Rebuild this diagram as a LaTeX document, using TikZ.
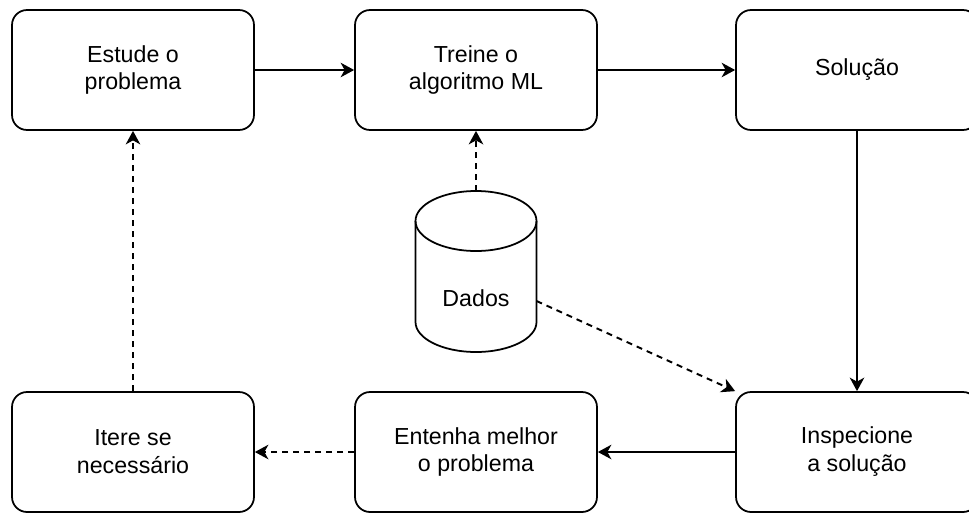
\documentclass[tikz,border=0pt]{standalone}
\usepackage{fontspec}
\setmainfont{Liberation Sans}
\usetikzlibrary{arrows.meta}
\begin{document}
\begin{tikzpicture}[x=0.02cm,y=-0.02cm,
  caixa/.style={draw,rounded corners=0.3cm,line width=1pt,minimum width=4.84cm,minimum height=2.4cm,align=center,font=\fontsize{13.2}{15.9}\selectfont},
  seta/.style={line width=1.1pt,-{Stealth[length=0.27cm,width=0.29cm,inset=0.08cm]}},
  tracejada/.style={seta,dash pattern=on 0.12cm off 0.1cm}]
\useasboundingbox (0,0) rectangle (969,514);
\node[caixa](estude) at (133,70){Estude o\\problema};
\node[caixa](treine) at (476,70){Treine o\\algoritmo ML};
\node[caixa](solucao) at (857,70){Solução};
\node[caixa](itere) at (133,452){Itere se\\necessário};
\node[caixa](entenha) at (476,452){Entenha melhor\\o problema};
\node[caixa](inspecione) at (857,452){Inspecione\\a solução};
%cilindro
\draw[line width=1pt] (476,221) ellipse [x radius=60.5,y radius=30];
\draw[line width=1pt] (415.5,221)--(415.5,322) arc[start angle=180,end angle=0,x radius=60.5,y radius=30]--(536.5,221);
\node[font=\fontsize{13.2}{15.9}\selectfont](dados) at (476,298){Dados};
\coordinate (dtopo) at (476,191);
\coordinate (dlado) at (536.5,301);
%setas
\draw[seta] (estude)--(treine);
\draw[seta] (treine)--(solucao);
\draw[seta] (solucao)--(inspecione);
\draw[seta] (inspecione)--(entenha);
\draw[tracejada] (entenha)--(itere);
\draw[tracejada] (itere)--(estude);
\draw[tracejada] (dtopo)--(dtopo|-treine.south);
\draw[tracejada] (dlado)--(inspecione.north west);
\end{tikzpicture}
\end{document}
